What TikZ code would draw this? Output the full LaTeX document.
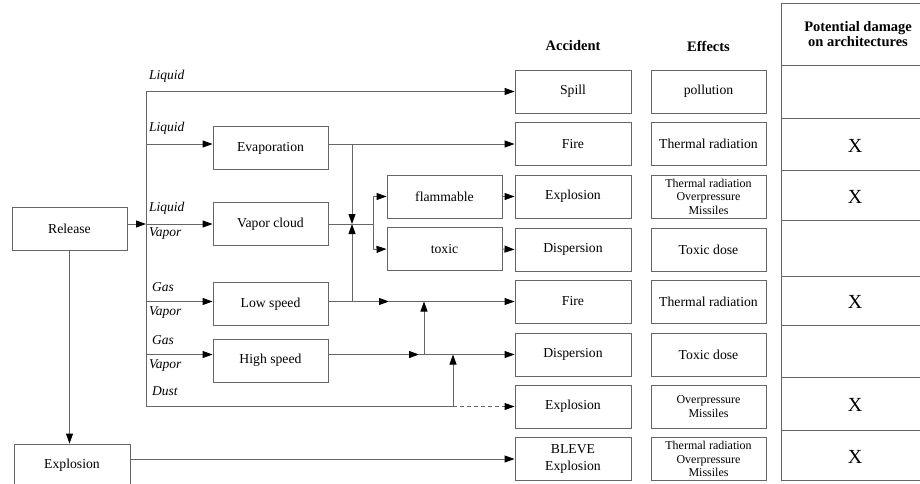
\documentclass[tikz,border=0pt]{standalone}
\usepackage{fontspec}
\setmainfont{Liberation Serif}
\usetikzlibrary{arrows.meta}
\begin{document}
\begin{tikzpicture}[x=1pt,y=-1pt,
  box/.style={draw=black!60, line width=0.9pt, minimum width=115pt, minimum height=43pt, inner sep=1pt, align=center, font=\fontsize{13.7}{17}\selectfont},
  sbox/.style={box, font=\fontsize{12}{13.5}\selectfont},
  ln/.style={draw=black!60, line width=0.9pt},
  arr/.style={ln, -{Triangle[length=10pt,width=7pt,fill=black,color=black]}},
  lab/.style={anchor=mid west, font=\fontsize{13.5}{15}\selectfont\itshape, inner sep=0pt},
  hd/.style={font=\fontsize{14.5}{17}\selectfont\bfseries, align=center},
  xm/.style={font=\fontsize{20}{22}\selectfont}
]
\useasboundingbox (0,0) rectangle (920,483);

% left boxes
\node[box] (release) at (69.5,229) {Release};
\node[box, minimum width=116pt, minimum height=42pt] (explB) at (72,465) {Explosion};
\node[box] (evap) at (270.5,148) {Evaporation};
\node[box] (vapor) at (270.5,224) {Vapor cloud};
\node[box] (low) at (270.5,304) {Low speed};
\node[box] (high) at (270.5,360.5) {High speed};
\node[box] (flam) at (444.5,196.5) {flammable};
\node[box] (toxic) at (444.5,249) {toxic};

% accident column
\node[hd] (hacc) at (573,46) {Accident};
\node[box, minimum width=116pt] (spill) at (573,91.5) {Spill};
\node[box, minimum width=116pt] (fire1) at (573,144) {Fire};
\node[box, minimum width=116pt] (expl1) at (573,196.5) {Explosion};
\node[box, minimum width=116pt] (disp1) at (573,249.5) {Dispersion};
\node[box, minimum width=116pt] (fire2) at (573,301.5) {Fire};
\node[box, minimum width=116pt] (disp2) at (573,354.5) {Dispersion};
\node[box, minimum width=116pt] (expl2) at (573,406.5) {Explosion};
\node[box, minimum width=116pt] (bleve) at (573,459) {BLEVE\\Explosion};

% effects column
\node[hd] (heff) at (708.5,46) {Effects};
\node[box] (e1) at (708.5,91.5) {pollution};
\node[box] (e2) at (708.5,144) {Thermal radiation};
\node[sbox] (e3) at (708.5,196.5) {Thermal radiation\\Overpressure\\Missiles};
\node[box] (e4) at (708.5,249.5) {Toxic dose};
\node[box] (e5) at (708.5,301.5) {Thermal radiation};
\node[box] (e6) at (708.5,354.5) {Toxic dose};
\node[sbox] (e7) at (708.5,406.5) {Overpressure\\Missiles};
\node[sbox] (e8) at (708.5,459) {Thermal radiation\\Overpressure\\Missiles};

% damage table
\draw[ln] (920,3) -- (781,3) -- (781,480) -- (920,480);
\foreach \yy in {65,118,170,220,276,325,377,430}
  \draw[ln] (781,\yy) -- (920,\yy);
\node[hd] (hpot) at (858,34) {Potential damage\\[-2pt]on architectures};
\node[xm] (x1) at (855,146) {X};
\node[xm] (x2) at (855,197) {X};
\node[xm] (x3) at (855,302) {X};
\node[xm] (x4) at (855,405) {X};
\node[xm] (x5) at (855,457) {X};

% labels
\node[lab] (l1) at (149,77) {Liquid};
\node[lab] (l2) at (149,129) {Liquid};
\node[lab] (l3) at (149,209) {Liquid};
\node[lab] (l4) at (149,234) {Vapor};
\node[lab] (l5) at (152,289) {Gas};
\node[lab] (l6) at (149,313) {Vapor};
\node[lab] (l7) at (152,342) {Gas};
\node[lab] (l8) at (149,366) {Vapor};
\node[lab] (l9) at (152,393) {Dust};

% coordinates
\coordinate (tTop) at (146,91.5);
\coordinate (tMid) at (146,224);
\coordinate (tBot) at (146,406.5);
\coordinate (j1) at (352,144);
\coordinate (j1m) at (352,224);
\coordinate (j1b) at (352,301.5);
\coordinate (j2) at (373,224);
\coordinate (j2a) at (373,196.5);
\coordinate (j2b) at (373,249.5);
\coordinate (m1) at (389,301.5);
\coordinate (j3) at (424,354.5);
\coordinate (m2) at (419,354.5);
\coordinate (j4) at (453,406.5);

% trunk and branches
\draw[ln] (tTop) -- (tBot);
\draw[arr] (release.east |- tMid) -- (tMid);
\draw[arr] (tTop) -- (spill.west);
\draw[arr] (tTop |- fire1.west) -- (evap.west |- fire1.west);
\draw[arr] (tMid) -- (vapor.west);
\draw[arr] (tTop |- fire2.west) -- (low.west |- fire2.west);
\draw[arr] (tTop |- disp2.west) -- (high.west |- disp2.west);
\draw[ln] (tBot) -- (j4);
\draw[arr, dash pattern=on 4pt off 3pt] (j4) -- (expl2.west);

% evaporation / vapor cloud
\draw[arr] (evap.east |- fire1.west) -- (fire1.west);
\draw[arr] (j1) -- (j1m);
\draw[arr] (j1b) -- (j1m);
\draw[ln] (vapor.east) -- (j2);
\draw[ln] (j2a) -- (j2b);
\draw[arr] (j2a) -- (flam.west);
\draw[arr] (j2b) -- (toxic.west);
\draw[arr] (flam.east) -- (expl1.west);
\draw[arr] (toxic.east) -- (disp1.west);

% low / high speed
\draw[arr] (low.east |- fire2.west) -- (m1);
\draw[arr] (m1) -- (fire2.west);
\draw[arr] (j3) -- (j3 |- fire2.west);
\draw[arr] (high.east |- disp2.west) -- (m2);
\draw[arr] (m2) -- (disp2.west);
\draw[arr] (j4) -- (j4 |- disp2.west);

% release -> explosion -> BLEVE
\draw[arr] (release.south) -- (release.south |- explB.north);
\draw[arr] (explB.east |- bleve.west) -- (bleve.west);
\end{tikzpicture}
\end{document}
